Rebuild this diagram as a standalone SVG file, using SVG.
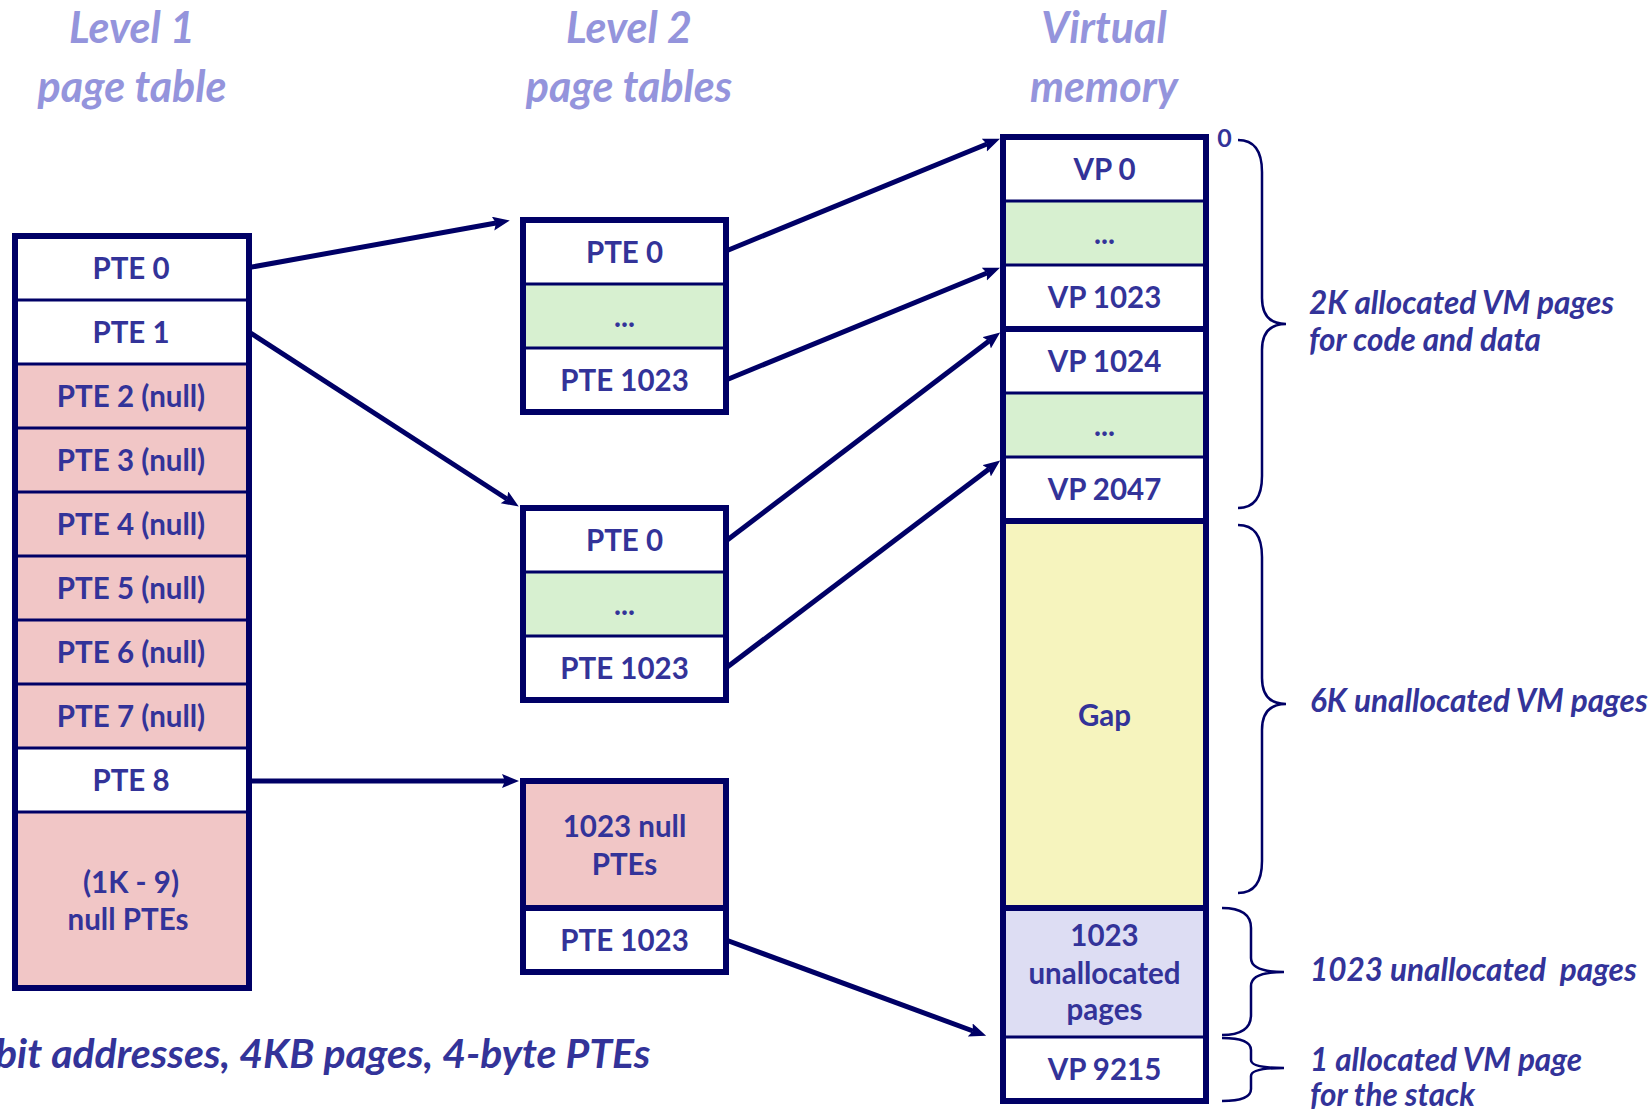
<svg xmlns="http://www.w3.org/2000/svg" width="1652" height="1109" viewBox="0 0 1652 1109">
<defs>
<marker id="ah" markerUnits="userSpaceOnUse" markerWidth="20" markerHeight="16" refX="3" refY="7" orient="auto">
<path d="M0,0 L17,7 L0,14 L3,7 z" fill="#000066"/>
</marker>
</defs>
<style>
.t{font-family:Lato,"Liberation Sans",sans-serif;font-weight:bold;font-size:29.5px;fill:#333399;text-anchor:middle}
.ti{font-family:Lato,"Liberation Sans",sans-serif;font-weight:bold;font-style:italic;font-size:43px;fill:#9494DC;text-anchor:middle}
.lb{font-family:Lato,"Liberation Sans",sans-serif;font-weight:bold;font-style:italic;font-size:31.5px;fill:#333399}
.box{fill:none;stroke:#000066;stroke-width:6}
.div{stroke:#000066;stroke-width:3}
.divt{stroke:#000066;stroke-width:6}
.w{fill:#FFFFFF}
.pk{fill:#F1C6C6}
.gr{fill:#D7F0D0}
.ye{fill:#F6F4BE}
.lv{fill:#DDDDF3}
.con{stroke:#000066;stroke-width:5;fill:none;marker-end:url(#ah)}
.br{stroke:#000066;stroke-width:2.5;fill:none}
</style>
<rect width="1652" height="1109" fill="#FFFFFF"/>

<g id="titles">
<text class="ti" x="132" y="43">Level 1</text>
<text class="ti" x="132" y="102">page table</text>
<text class="ti" x="629" y="43">Level 2</text>
<text class="ti" x="629" y="102">page tables</text>
<text class="ti" x="1104" y="43">Virtual</text>
<text class="ti" x="1104" y="102">memory</text>
</g>

<g id="level1">
<rect class="w" x="15" y="236" width="234" height="128"/>
<rect class="pk" x="15" y="364" width="234" height="384"/>
<rect class="w" x="15" y="748" width="234" height="64"/>
<rect class="pk" x="15" y="812" width="234" height="176"/>
<line class="div" x1="15" y1="300" x2="249" y2="300"/>
<line class="div" x1="15" y1="364" x2="249" y2="364"/>
<line class="div" x1="15" y1="428" x2="249" y2="428"/>
<line class="div" x1="15" y1="492" x2="249" y2="492"/>
<line class="div" x1="15" y1="556" x2="249" y2="556"/>
<line class="div" x1="15" y1="620" x2="249" y2="620"/>
<line class="div" x1="15" y1="684" x2="249" y2="684"/>
<line class="div" x1="15" y1="748" x2="249" y2="748"/>
<line class="div" x1="15" y1="812" x2="249" y2="812"/>
<rect class="box" x="15" y="236" width="234" height="752"/>
<text class="t" x="131" y="279">PTE 0</text>
<text class="t" x="131" y="343">PTE 1</text>
<text class="t" x="131" y="407">PTE 2 (null)</text>
<text class="t" x="131" y="471">PTE 3 (null)</text>
<text class="t" x="131" y="535">PTE 4 (null)</text>
<text class="t" x="131" y="599">PTE 5 (null)</text>
<text class="t" x="131" y="663">PTE 6 (null)</text>
<text class="t" x="131" y="727">PTE 7 (null)</text>
<text class="t" x="131" y="791">PTE 8</text>
<text class="t" x="131" y="893">(1K - 9)</text>
<text class="t" x="128" y="930">null PTEs</text>
</g>

<g id="level2a">
<rect class="w" x="523" y="220" width="203" height="64"/>
<rect class="gr" x="523" y="284" width="203" height="64"/>
<rect class="w" x="523" y="348" width="203" height="64"/>
<line class="div" x1="523" y1="284" x2="726" y2="284"/>
<line class="div" x1="523" y1="348" x2="726" y2="348"/>
<rect class="box" x="523" y="220" width="203" height="192"/>
<text class="t" x="624.5" y="263">PTE 0</text>
<text class="t" x="624.5" y="327">...</text>
<text class="t" x="624.5" y="391">PTE 1023</text>
</g>

<g id="level2b">
<rect class="w" x="523" y="508" width="203" height="64"/>
<rect class="gr" x="523" y="572" width="203" height="64"/>
<rect class="w" x="523" y="636" width="203" height="64"/>
<line class="div" x1="523" y1="572" x2="726" y2="572"/>
<line class="div" x1="523" y1="636" x2="726" y2="636"/>
<rect class="box" x="523" y="508" width="203" height="192"/>
<text class="t" x="624.5" y="551">PTE 0</text>
<text class="t" x="624.5" y="615">...</text>
<text class="t" x="624.5" y="679">PTE 1023</text>
</g>

<g id="level2c">
<rect class="pk" x="523" y="781" width="203" height="127"/>
<rect class="w" x="523" y="908" width="203" height="64"/>
<line class="divt" x1="523" y1="908" x2="726" y2="908"/>
<rect class="box" x="523" y="781" width="203" height="191"/>
<text class="t" x="624.5" y="837">1023 null</text>
<text class="t" x="624.5" y="875">PTEs</text>
<text class="t" x="624.5" y="951">PTE 1023</text>
</g>

<g id="vm">
<rect class="w" x="1003" y="137" width="203" height="64"/>
<rect class="gr" x="1003" y="201" width="203" height="64"/>
<rect class="w" x="1003" y="265" width="203" height="128"/>
<rect class="gr" x="1003" y="393" width="203" height="64"/>
<rect class="w" x="1003" y="457" width="203" height="64"/>
<rect class="ye" x="1003" y="521" width="203" height="387"/>
<rect class="lv" x="1003" y="908" width="203" height="129"/>
<rect class="w" x="1003" y="1037" width="203" height="64"/>
<line class="div" x1="1003" y1="201" x2="1206" y2="201"/>
<line class="div" x1="1003" y1="265" x2="1206" y2="265"/>
<line class="divt" x1="1003" y1="329" x2="1206" y2="329"/>
<line class="div" x1="1003" y1="393" x2="1206" y2="393"/>
<line class="div" x1="1003" y1="457" x2="1206" y2="457"/>
<line class="divt" x1="1003" y1="521" x2="1206" y2="521"/>
<line class="divt" x1="1003" y1="908" x2="1206" y2="908"/>
<line class="div" x1="1003" y1="1037" x2="1206" y2="1037"/>
<rect class="box" x="1003" y="137" width="203" height="964"/>
<text class="t" x="1104.5" y="180">VP 0</text>
<text class="t" x="1104.5" y="244">...</text>
<text class="t" x="1104.5" y="308">VP 1023</text>
<text class="t" x="1104.5" y="372">VP 1024</text>
<text class="t" x="1104.5" y="436">...</text>
<text class="t" x="1104.5" y="500">VP 2047</text>
<text class="t" x="1104.5" y="726">Gap</text>
<text class="t" x="1104.5" y="946">1023</text>
<text class="t" x="1104.5" y="984">unallocated</text>
<text class="t" x="1104.5" y="1020">pages</text>
<text class="t" x="1104.5" y="1080">VP 9215</text>
<text class="t" x="1224.5" y="147" style="font-size:25px">0</text>
</g>

<g id="connectors">
<line class="con" x1="249" y1="267.5" x2="496" y2="223"/>
<line class="con" x1="249" y1="332" x2="507" y2="499"/>
<line class="con" x1="249" y1="781" x2="505" y2="781"/>
<line class="con" x1="726" y1="251" x2="987" y2="144"/>
<line class="con" x1="726" y1="380" x2="987" y2="273"/>
<line class="con" x1="726" y1="541" x2="989" y2="341"/>
<line class="con" x1="726" y1="668" x2="989" y2="469"/>
<line class="con" x1="726" y1="940" x2="973" y2="1031"/>
</g>

<g id="braces">
<path class="br" d="M1238,140 Q1262,140 1262,172 L1262,298 Q1262,324 1286,324 Q1262,324 1262,350 L1262,476 Q1262,508 1238,508"/>
<path class="br" d="M1238,525 Q1262,525 1262,557 L1262,678 Q1262,704 1286,704 Q1262,704 1262,730 L1262,861 Q1262,893 1238,893"/>
<path class="br" d="M1222,908 Q1251,908 1251,928 L1251,958 Q1251,972 1284,972 Q1251,972 1251,986 L1251,1015 Q1251,1035 1222,1035"/>
<path class="br" d="M1222,1038 Q1251,1038 1251,1050 L1251,1060 Q1251,1068 1284,1068 Q1251,1068 1251,1076 L1251,1089 Q1251,1101 1222,1101"/>
</g>

<g id="labels">
<text class="lb" x="1309" y="314">2K allocated VM pages</text>
<text class="lb" x="1309" y="351">for code and data</text>
<text class="lb" x="1310" y="712">6K unallocated VM pages</text>
<text class="lb" x="1310" y="981" xml:space="preserve">1023 unallocated  pages</text>
<text class="lb" x="1310" y="1071">1 allocated VM page</text>
<text class="lb" x="1310" y="1106">for the stack</text>
<text class="lb" x="-5" y="1068" style="font-size:41px">bit addresses, 4KB pages, 4-byte PTEs</text>
</g>
</svg>
